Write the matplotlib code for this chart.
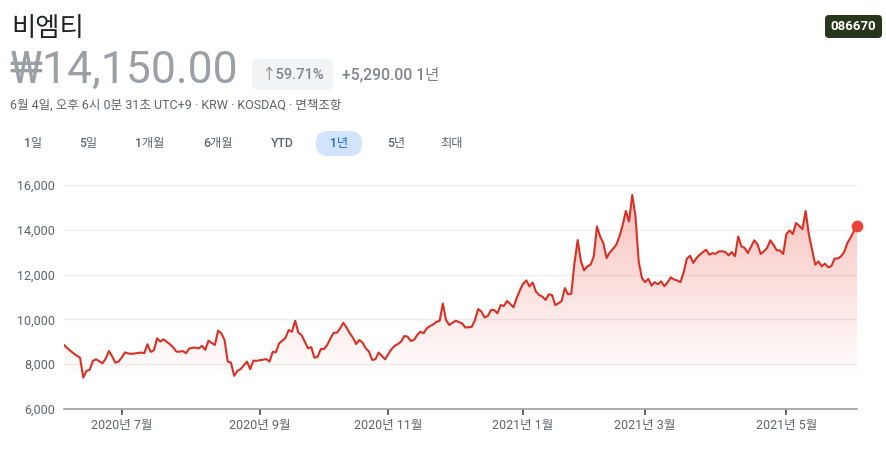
import matplotlib.pyplot as plt
import numpy as np
import pandas as pd
from matplotlib.patches import FancyBboxPatch
from matplotlib.transforms import IdentityTransform

plt.rcParams['font.family'] = ['Roboto', 'Noto Sans CJK KR', 'DejaVu Sans']

W, H = 887, 455

# daily closes, one per KOSDAQ trading day 2020-06-05 .. 2021-06-04
close = [
    8860, 8720, 8600, 8480, 8380, 8290, 7400, 7700, 7750, 8150,
    8220, 8130, 8040, 8250, 8590, 8350, 8070, 8120, 8300, 8530,
    8480, 8460, 8480, 8500, 8520, 8490, 8890, 8550, 8620, 9155,
    9010, 9110, 9000, 8890, 8750, 8560, 8560, 8590, 8490, 8700,
    8730, 8740, 8710, 8820, 8640, 9050, 8950, 8860, 9495, 9380,
    9080, 8115, 8070, 7480, 7700, 7780, 7950, 8115, 7780, 8160,
    8150, 8180, 8200, 8230, 8115, 8550, 8530, 8930, 9050, 9180,
    9525, 9450, 9940, 9410, 9300, 9000, 8710, 8760, 8290, 8330,
    8680, 8680, 8860, 9150, 9405, 9405, 9600, 9850, 9640, 9380,
    9180, 8900, 9080, 8960, 8710, 8560, 8190, 8220, 8520, 8370,
    8220, 8450, 8670, 8820, 8900, 9010, 9260, 9230, 9040, 9080,
    9300, 9450, 9380, 9600, 9700, 9780, 9890, 9935, 10710, 9970,
    9750, 9850, 9940, 9880, 9820, 9640, 9650, 9670, 9970, 10460,
    10350, 10090, 10150, 10420, 10420, 10270, 10640, 10600, 10820, 10690,
    10540, 10950, 11300, 11590, 11740, 11470, 11650, 11240, 11090, 11020,
    10870, 11120, 11090, 10640, 10720, 10820, 11400, 11120, 11140, 12520,
    13540, 12600, 12190, 12370, 12440, 12810, 14150, 13700, 13400, 12740,
    12990, 13150, 13330, 13700, 14200, 14840, 14370, 15560, 14600, 12590,
    11850, 11660, 11810, 11510, 11660, 11570, 11700, 11480, 11650, 11880,
    11780, 11740, 11660, 12100, 12710, 12840, 12520, 12740, 12890, 13000,
    13110, 12890, 12960, 12930, 13040, 13040, 13010, 12860, 13010, 12820,
    13700, 13260, 13190, 12960, 13250, 13530, 13360, 12920, 13040, 13190,
    13530, 13330, 13080, 13080, 12920, 13810, 13970, 13810, 14300, 14180,
    14030, 14840, 13800, 13110, 12440, 12590, 12370, 12490, 12330, 12370,
    12710, 12720, 12810, 13010, 13410, 13650, 13930, 14150,
]

krx_holidays = [
    '2020-08-17', '2020-09-30', '2020-10-01', '2020-10-02', '2020-10-09',
    '2020-12-25', '2020-12-31', '2021-01-01', '2021-02-11', '2021-02-12',
    '2021-03-01', '2021-05-05', '2021-05-19',
]
dates = pd.bdate_range('2020-06-05', '2021-06-04', freq='C', holidays=krx_holidays)

y_ticks = [6000, 8000, 10000, 12000, 14000, 16000]
range_tabs = ['1일', '5일', '1개월', '6개월', 'YTD', '1년', '5년', '최대']
active_tab = '1년'

name = '비엠티'
ticker = '086670'
price = '₩14,150.00'
change_pct = '↑59.71%'
change_abs = '+5,290.00 1년'
subtitle = '6월 4일, 오후 6시 0분 31초 UTC+9 · KRW · KOSDAQ · 면책조항'

LINE = '#d93025'
GREY = '#5f6368'
PX = IdentityTransform()


def put_text(x, y, s, **kw):
    """Text placed in output pixels, y measured from the top."""
    return fig.text(x, H - y, s, transform=PX, **kw)


def put_box(x0, y0, x1, y1, color, r):
    box = FancyBboxPatch((x0, H - y1), x1 - x0, y1 - y0,
                         boxstyle=f'round,pad=0,rounding_size={r}',
                         fc=color, ec='none', transform=PX)
    fig.add_artist(box)


fig = plt.figure(figsize=(W / 100, H / 100), dpi=100)

# header
put_text(11, 29, name, fontsize=19, color='#202124', va='center')
put_text(9, 71, price, fontsize=32, color='#9aa0a6', va='center')
put_box(252, 59, 333, 90, '#f1f3f4', 7)
put_text(292.5, 74.5, change_pct, fontsize=10.5, color='#80868b',
         ha='center', va='center', fontweight='medium')
put_text(342, 74.5, change_abs, fontsize=11.3, color='#80868b',
         va='center', fontweight='medium')
put_text(10, 105, subtitle, fontsize=9, color=GREY, va='center')

put_box(825, 15, 882, 38, '#28361c', 4)
put_text(853.5, 26.5, ticker, fontsize=9.5, color='white', fontweight='bold',
         ha='center', va='center')

# range selector
tab_x = [33, 88, 150, 218, 282, 339, 396, 452]
for tx, label in zip(tab_x, range_tabs):
    col = GREY
    if label == active_tab:
        put_box(tx - 23, 131, tx + 23, 156, '#d2e3fc', 12)
        col = '#1967d2'
    put_text(tx, 143.5, label, fontsize=8.8, color=col, ha='center', va='center',
             fontweight='medium')

# chart
ax = fig.add_axes([64 / W, 1 - 409 / H, 793 / W, 224 / H])
x = np.arange(len(close))
vals = np.array(close, dtype=float)
lo, hi = vals.min(), vals.max()

poly = ax.fill_between(x, vals, lo, facecolor='none', edgecolor='none')
grad = np.zeros((256, 1, 4))
grad[:, 0, :3] = (0.92, 0.26, 0.21)
grad[:, 0, 3] = np.linspace(0.0, 0.33, 256)
img = ax.imshow(grad, extent=[0, len(close) - 1, lo, hi], origin='lower',
                aspect='auto', zorder=1, interpolation='bilinear')
img.set_clip_path(poly.get_paths()[0], transform=ax.transData)

ax.plot(x, vals, color=LINE, lw=1.5, zorder=3, solid_joinstyle='round')
ax.scatter([x[-1]], [vals[-1]], s=55, color='#ea4335', zorder=4, clip_on=False)

ax.set_xlim(0, len(close) - 1)
ax.set_ylim(y_ticks[0], y_ticks[-1])
ax.set_yticks(y_ticks)
ax.set_yticklabels([f'{v:,}' for v in y_ticks])
ax.yaxis.grid(True, color='#eeeeee', lw=1)
ax.set_axisbelow(True)

tick_idx, tick_lbl = [], []
prev = dates[0].month
for i, d in enumerate(dates):
    if d.month != prev and d.month % 2 == 1:
        tick_idx.append(i)
        tick_lbl.append(f'{d.year}년 {d.month}월')
    prev = d.month
ax.set_xticks(tick_idx)
ax.set_xticklabels(tick_lbl)

for side in ['top', 'right', 'left']:
    ax.spines[side].set_visible(False)
ax.spines['bottom'].set_color('#9aa0a6')
ax.spines['bottom'].set_linewidth(1.2)
ax.tick_params(axis='y', length=0, pad=6.5, labelsize=9, labelcolor=GREY)
ax.tick_params(axis='x', length=4, width=1.4, color=GREY, pad=3,
               labelsize=9, labelcolor=GREY)

fig.savefig('out.png', dpi=100)
